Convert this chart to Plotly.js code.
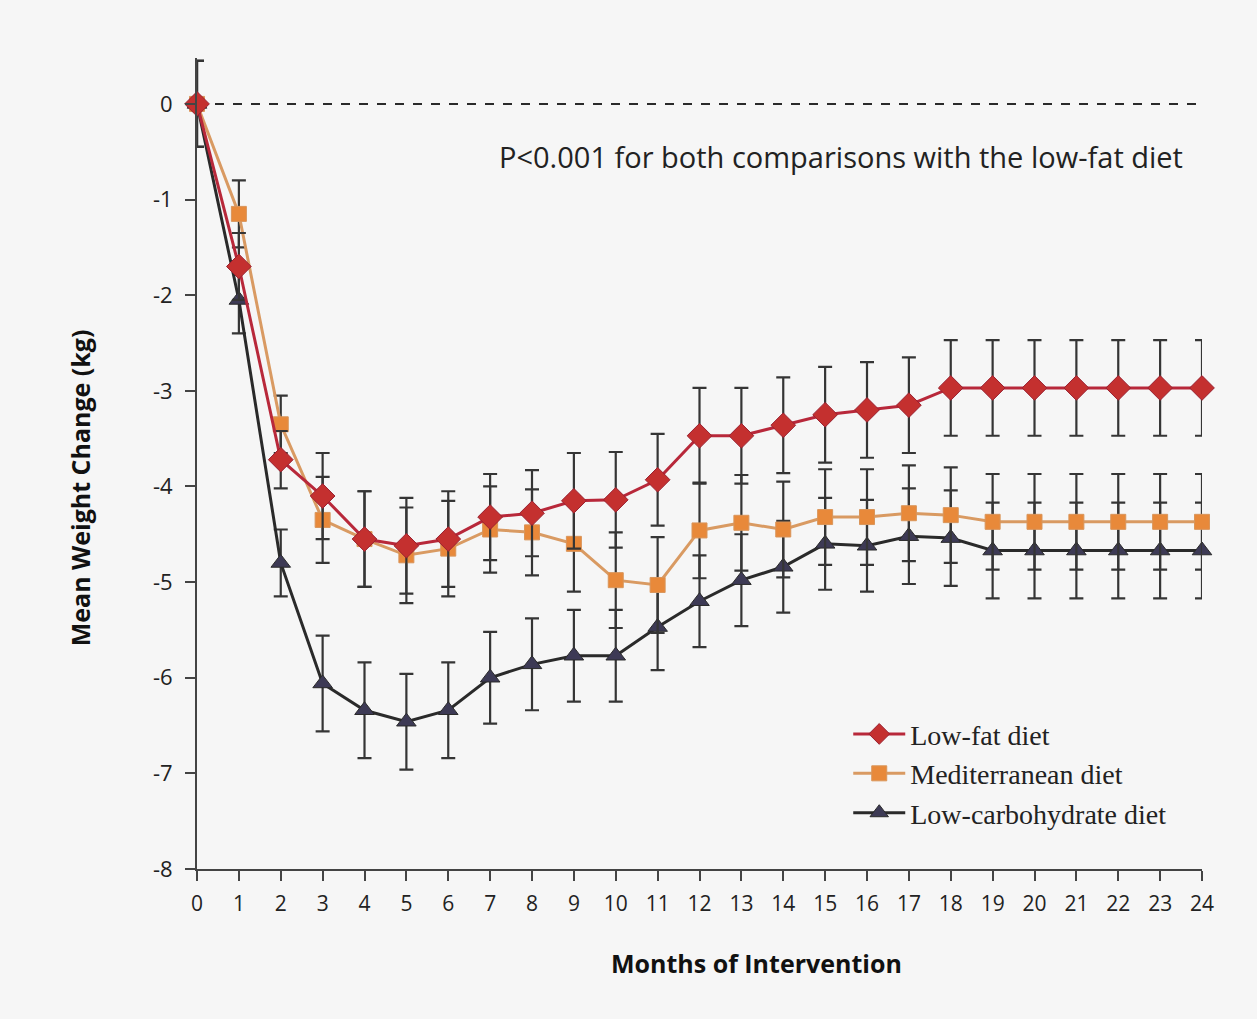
<!DOCTYPE html>
<html>
<head>
<meta charset="utf-8">
<script src="https://cdn.plot.ly/plotly-3.0.1.min.js"></script>
<style>
  html, body { margin: 0; padding: 0; background: #f6f6f6; }
  #chart { width: 1257px; height: 1019px; }
</style>
</head>
<body>
<div id="chart"></div>
<script>
const months = [0,1,2,3,4,5,6,7,8,9,10,11,12,13,14,15,16,17,18,19,20,21,22,23,24];
const tickLabels = ["0","1","2","3","4","5","6","7","8","9","10","11","12","13","14","15","16","17","18","19","20","21","22","23","24"];
const yTicks = [0,-1,-2,-3,-4,-5,-6,-7,-8];

const lowFat = [0,-1.7,-3.72,-4.1,-4.55,-4.62,-4.55,-4.32,-4.28,-4.15,-4.14,-3.93,-3.47,-3.47,-3.36,-3.25,-3.2,-3.15,-2.97,-2.97,-2.97,-2.97,-2.97,-2.97,-2.97];
const lowFatErr = [0.45,0.35,0.3,0.45,0.5,0.5,0.5,0.45,0.45,0.5,0.5,0.48,0.5,0.5,0.5,0.5,0.5,0.5,0.5,0.5,0.5,0.5,0.5,0.5,0.5];

const mediterranean = [0,-1.15,-3.35,-4.35,-4.55,-4.72,-4.65,-4.45,-4.48,-4.6,-4.98,-5.03,-4.46,-4.38,-4.45,-4.32,-4.32,-4.28,-4.3,-4.37,-4.37,-4.37,-4.37,-4.37,-4.37];
const medErr = [0.45,0.35,0.3,0.45,0.5,0.5,0.5,0.45,0.45,0.5,0.5,0.5,0.5,0.5,0.5,0.5,0.5,0.5,0.5,0.5,0.5,0.5,0.5,0.5,0.5];

const lowCarb = [0,-2.05,-4.8,-6.06,-6.34,-6.46,-6.34,-6.0,-5.86,-5.77,-5.77,-5.47,-5.2,-4.98,-4.84,-4.6,-4.62,-4.52,-4.54,-4.67,-4.67,-4.67,-4.67,-4.67,-4.67];
const carbErr = [0.45,0.35,0.35,0.5,0.5,0.5,0.5,0.48,0.48,0.48,0.48,0.45,0.48,0.48,0.48,0.48,0.48,0.5,0.5,0.5,0.5,0.5,0.5,0.5,0.5];

const seriesNames = ["Low-fat diet", "Mediterranean diet", "Low-carbohydrate diet"];
const annotationText = "P<0.001 for both comparisons with the low-fat diet";
const xTitle = "Months of Intervention";
const yTitle = "Mean Weight Change (kg)";

function errStyle(arr) {
  return { type: 'data', array: arr, visible: true, color: '#353535', thickness: 2.2, width: 7 };
}

const traces = [
  {
    x: months, y: lowCarb, name: seriesNames[2], type: 'scatter', mode: 'lines+markers',
    line: { color: '#2a2a2a', width: 3 },
    marker: { symbol: 'triangle-up', size: 17, color: '#3d3a55', line: { color: '#2a2a2a', width: 1 } },
    error_y: errStyle(carbErr), legendrank: 3, cliponaxis: false
  },
  {
    x: months, y: mediterranean, name: seriesNames[1], type: 'scatter', mode: 'lines+markers',
    line: { color: '#d99a62', width: 3 },
    marker: { symbol: 'square', size: 15, color: '#e8893a', line: { color: '#d9955a', width: 1 } },
    error_y: errStyle(medErr), legendrank: 2, cliponaxis: false
  },
  {
    x: months, y: lowFat, name: seriesNames[0], type: 'scatter', mode: 'lines+markers',
    line: { color: '#b8283a', width: 3 },
    marker: { symbol: 'diamond', size: 19, color: '#c4302f', line: { color: '#9a2030', width: 1 } },
    error_y: errStyle(lowFatErr), legendrank: 1, cliponaxis: false
  }
];

const layout = {
  width: 1257, height: 1019,
  paper_bgcolor: '#f6f6f6', plot_bgcolor: '#f6f6f6',
  margin: { l: 197, r: 55, t: 58, b: 150 },
  font: { family: 'Open Sans, sans-serif', color: '#222' },
  showlegend: true,
  legend: {
    x: 0.648, y: 0.197, xanchor: 'left', yanchor: 'top',
    bgcolor: 'rgba(0,0,0,0)',
    font: { family: 'Liberation Serif, serif', size: 28, color: '#222' },
    itemwidth: 52, tracegroupgap: 0
  },
  xaxis: {
    range: [0, 24], tickmode: 'array', tickvals: months, ticktext: tickLabels,
    showgrid: false, zeroline: false, showline: true, linecolor: '#444', linewidth: 2,
    ticks: 'outside', ticklen: 10, tickwidth: 2, tickcolor: '#444', ticklabelstandoff: 5,
    tickfont: { family: 'Open Sans, sans-serif', size: 21, color: '#222' }
  },
  yaxis: {
    range: [-8, 0.48], tickmode: 'array', tickvals: yTicks, ticktext: yTicks.map(v => String(v)),
    showgrid: false, zeroline: false, showline: true, linecolor: '#444', linewidth: 2,
    ticks: 'outside', ticklen: 10, tickwidth: 2, tickcolor: '#444', ticklabelstandoff: 8,
    tickfont: { family: 'Open Sans, sans-serif', size: 22, color: '#222' }
  },
  shapes: [
    { type: 'line', xref: 'x', yref: 'y', x0: 0, x1: 24, y0: 0, y1: 0,
      line: { color: '#2a2a2a', width: 2, dash: 'dash' }, layer: 'below' }
  ],
  annotations: [
    { text: annotationText, xref: 'x', yref: 'y', x: 23.6, y: -0.55, xanchor: 'right', yanchor: 'middle',
      showarrow: false, font: { family: 'Open Sans, sans-serif', size: 29, color: '#222' } },
    { text: xTitle, xref: 'paper', yref: 'paper', x: 0.557, y: -0.093, xanchor: 'center', yanchor: 'top',
      showarrow: false, font: { family: 'Open Sans, sans-serif', size: 25, color: '#111', weight: 'bold' } },
    { text: yTitle, xref: 'paper', yref: 'paper', x: -0.117, y: 0.47, xanchor: 'center', yanchor: 'middle',
      textangle: -90, showarrow: false, font: { family: 'Open Sans, sans-serif', size: 25, color: '#111', weight: 'bold' } }
  ]
};

Plotly.newPlot('chart', traces, layout, { displayModeBar: false, staticPlot: true });
</script>
</body>
</html>
